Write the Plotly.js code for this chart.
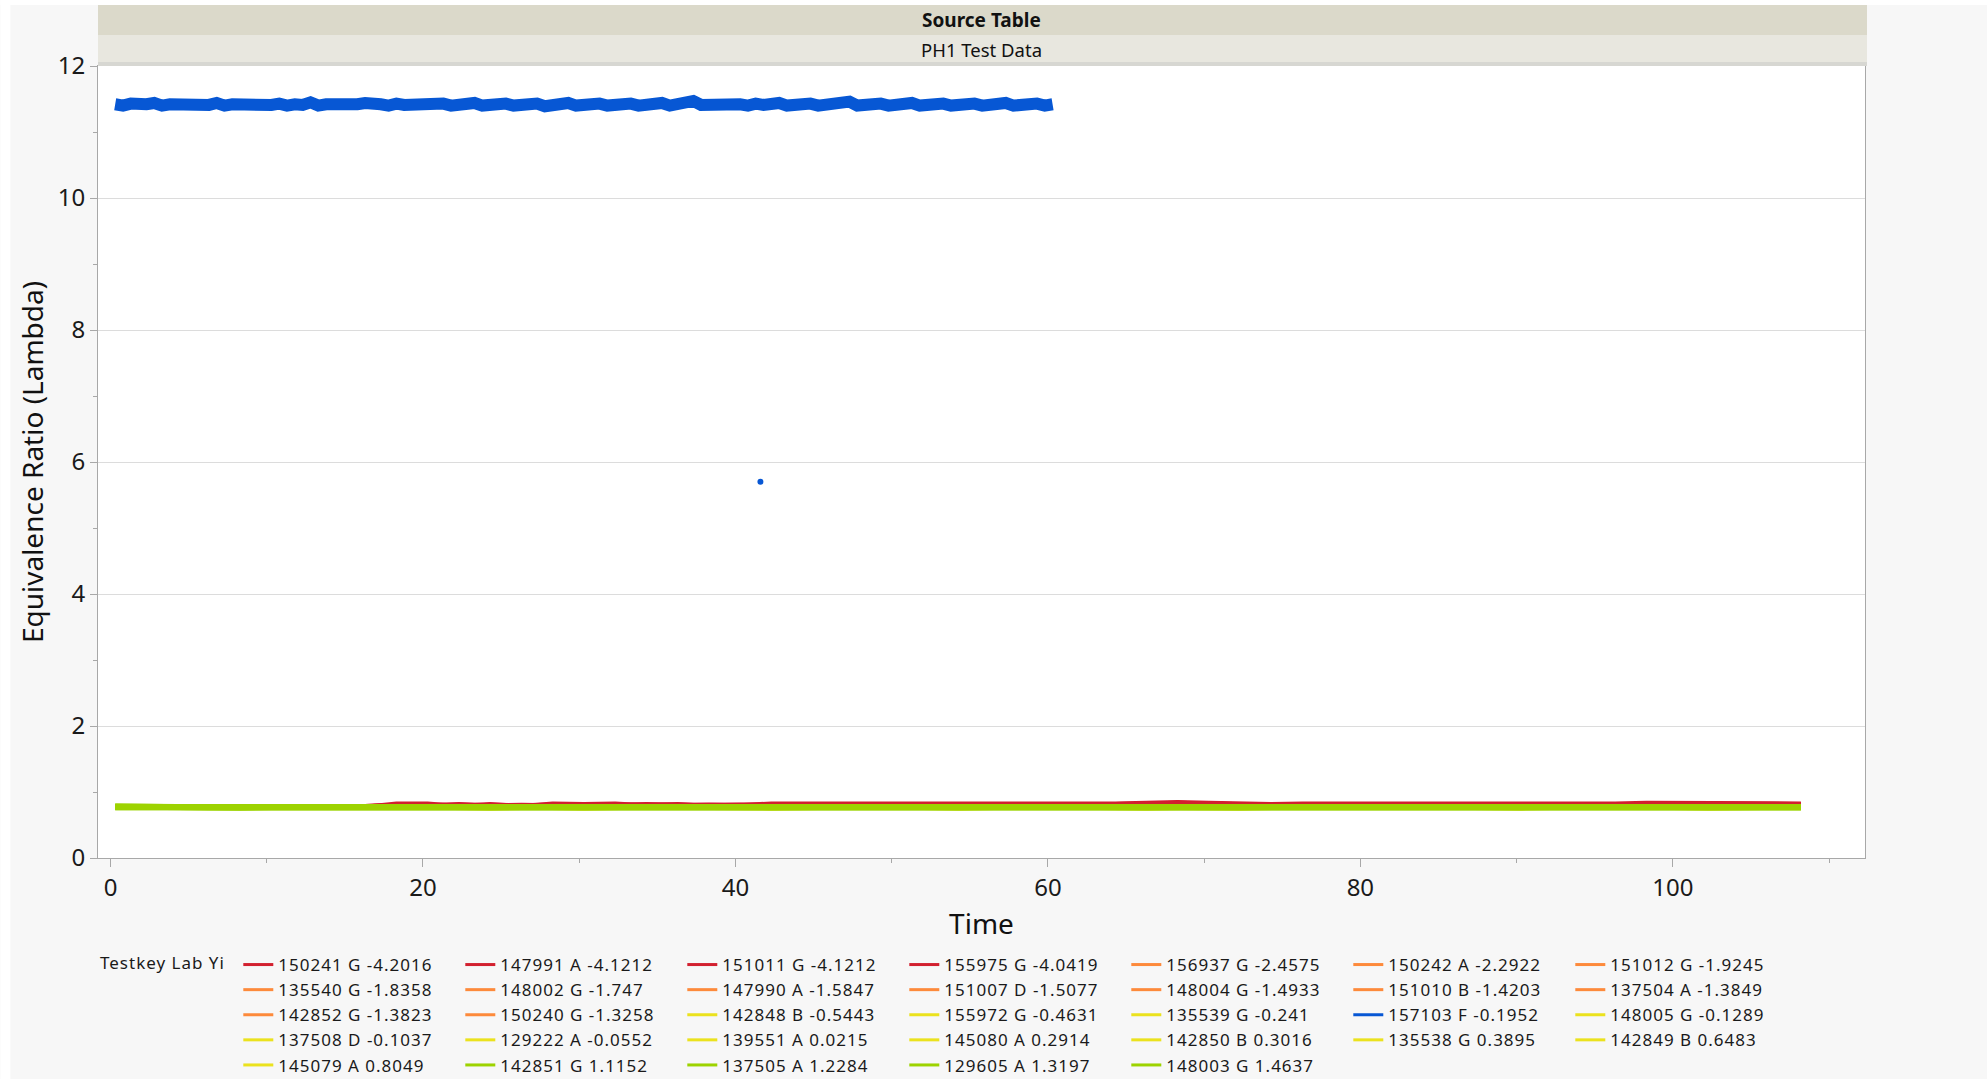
<!DOCTYPE html>
<html>
<head>
<meta charset="utf-8">
<script src="https://cdn.plot.ly/plotly-3.0.1.min.js"></script>
<style>
html,body{margin:0;padding:0;background:#f7f7f7;}
#chart{width:1987px;height:1079px;}
.legendtext, .legendtitletext{letter-spacing:1px;}
</style>
</head>
<body>
<div id="chart"></div>
<script>
// ---------------- DATA ----------------
const legendTitle = "Testkey Lab Yi";
const seriesLabels = [
  "150241 G -4.2016","147991 A -4.1212","151011 G -4.1212","155975 G -4.0419","156937 G -2.4575","150242 A -2.2922","151012 G -1.9245",
  "135540 G -1.8358","148002 G -1.747","147990 A -1.5847","151007 D -1.5077","148004 G -1.4933","151010 B -1.4203","137504 A -1.3849",
  "142852 G -1.3823","150240 G -1.3258","142848 B -0.5443","155972 G -0.4631","135539 G -0.241","157103 F -0.1952","148005 G -0.1289",
  "137508 D -0.1037","129222 A -0.0552","139551 A 0.0215","145080 A 0.2914","142850 B 0.3016","135538 G 0.3895","142849 B 0.6483",
  "145079 A 0.8049","142851 G 1.1152","137505 A 1.2284","129605 A 1.3197","148003 G 1.4637"
];

const timeFine = [0.3, 2.3, 4.3, 6.3, 8.3, 10.3, 12.3, 14.3, 16.3, 18.3,
  20.3, 22.3, 24.3, 26.3, 28.3, 30.3, 32.3, 34.3, 36.3, 38.3,
  40.3, 42.3, 44.3, 46.3, 48.3, 50.3, 52.3, 54.3, 56.3, 58.3,
  60.3, 62.3, 64.3, 66.3, 68.3, 70.3, 72.3, 74.3, 76.3, 78.3,
  80.3, 82.3, 84.3, 86.3, 88.3, 90.3, 92.3, 94.3, 96.3, 98.3,
  100.3, 102.3, 104.3, 106.3, 108.2];

const timeCoarse = [0.3, 6.3, 12.3, 18.3, 24.3, 30.3, 36.3, 42.3, 48.3, 54.3, 60.3, 66.3, 72.3, 78.3, 84.3, 90.3, 96.3, 102.3, 108.2];

const timeBlue = [0.3, 0.8, 1.3, 1.8, 2.3, 2.8, 3.3, 3.8, 4.3, 4.8,
  5.3, 5.8, 6.3, 6.8, 7.3, 7.8, 8.3, 8.8, 9.3, 9.8,
  10.3, 10.8, 11.3, 11.8, 12.3, 12.8, 13.3, 13.8, 14.3, 14.8,
  15.3, 15.8, 16.3, 16.8, 17.3, 17.8, 18.3, 18.8, 19.3, 19.8,
  20.3, 20.8, 21.3, 21.8, 22.3, 22.8, 23.3, 23.8, 24.3, 24.8,
  25.3, 25.8, 26.3, 26.8, 27.3, 27.8, 28.3, 28.8, 29.3, 29.8,
  30.3, 30.8, 31.3, 31.8, 32.3, 32.8, 33.3, 33.8, 34.3, 34.8,
  35.3, 35.8, 36.3, 36.8, 37.3, 37.8, 38.3, 38.8, 39.3, 39.8,
  40.3, 40.8, 41.3, 41.8, 42.3, 42.8, 43.3, 43.8, 44.3, 44.8,
  45.3, 45.8, 46.3, 46.8, 47.3, 47.8, 48.3, 48.8, 49.3, 49.8,
  50.3, 50.8, 51.3, 51.8, 52.3, 52.8, 53.3, 53.8, 54.3, 54.8,
  55.3, 55.8, 56.3, 56.8, 57.3, 57.8, 58.3, 58.8, 59.3, 59.8,
  60.3];

const s157103 = [11.42,11.40,11.43,11.41,11.42,11.44,11.40,11.42,11.41,11.43,
  11.40,11.42,11.41,11.44,11.40,11.42,11.41,11.43,11.39,11.42,
  11.41,11.43,11.40,11.42,11.41,11.45,11.40,11.42,11.41,11.43,
  11.40,11.42,11.44,11.41,11.42,11.40,11.43,11.41,11.42,11.39,
  11.42,11.41,11.43,11.40,11.42,11.41,11.44,11.40,11.42,11.41,
  11.43,11.40,11.42,11.41,11.43,11.39,11.42,11.41,11.44,11.40,
  11.42,11.41,11.43,11.40,11.42,11.41,11.43,11.40,11.42,11.41,
  11.44,11.40,11.42,11.41,11.47,11.41,11.42,11.40,11.43,11.41,
  11.42,11.40,11.43,11.41,11.42,11.44,11.40,11.42,11.41,11.43,
  11.40,11.42,11.41,11.43,11.46,11.40,11.42,11.41,11.43,11.40,
  11.42,11.41,11.44,11.40,11.42,11.41,11.43,11.40,11.42,11.41,
  11.43,11.40,11.42,11.41,11.44,11.40,11.42,11.41,11.43,11.40,
  11.42];
const s157103OutlierTime = [41.6];
const s157103OutlierValue = [5.70];

// red
const s150241 = [0.77,0.77,0.77,0.77,0.77,0.77,0.77,0.77,0.77,0.82,
  0.82,0.78,0.81,0.78,0.82,0.81,0.82,0.79,0.81,0.78,
  0.79,0.82,0.82,0.82,0.82,0.82,0.82,0.82,0.81,0.82,
  0.81,0.82,0.82,0.83,0.84,0.83,0.82,0.81,0.82,0.82,
  0.82,0.81,0.82,0.82,0.81,0.82,0.82,0.82,0.82,0.83,
  0.83,0.83,0.83,0.82,0.82];
const s147991 = [0.77,0.77,0.77,0.77,0.77,0.77,0.77,0.78,0.78,0.79,
  0.80,0.79,0.80,0.79,0.80,0.79,0.80,0.80,0.79,0.80,
  0.79,0.80,0.80,0.81,0.80,0.80,0.81,0.80,0.80,0.80,
  0.80,0.80,0.81,0.82,0.82,0.81,0.80,0.80,0.81,0.80,
  0.80,0.80,0.81,0.80,0.80,0.81,0.80,0.80,0.81,0.81,
  0.82,0.81,0.81,0.80,0.80];
const s151011 = [0.77,0.77,0.77,0.77,0.77,0.77,0.77,0.77,0.78,0.80,
  0.79,0.81,0.79,0.80,0.79,0.81,0.80,0.81,0.80,0.79,
  0.80,0.80,0.81,0.80,0.81,0.80,0.80,0.81,0.80,0.81,
  0.80,0.81,0.80,0.82,0.83,0.82,0.81,0.80,0.81,0.81,
  0.81,0.80,0.80,0.81,0.81,0.80,0.81,0.81,0.80,0.82,
  0.81,0.82,0.82,0.81,0.81];
const s155975 = [0.77,0.77,0.77,0.77,0.77,0.77,0.78,0.77,0.78,0.79,
  0.80,0.80,0.79,0.80,0.80,0.80,0.79,0.80,0.80,0.80,
  0.80,0.81,0.80,0.80,0.80,0.81,0.80,0.80,0.80,0.80,
  0.81,0.80,0.81,0.81,0.82,0.82,0.80,0.80,0.80,0.81,
  0.80,0.81,0.80,0.80,0.81,0.80,0.80,0.81,0.80,0.81,
  0.81,0.81,0.80,0.81,0.80];

// orange
const s156937 = [0.77,0.78,0.77,0.78,0.79,0.78,0.78,0.79,0.78,0.79,0.78,0.79,0.79,0.78,0.79,0.78,0.79,0.79,0.78];
const s150242 = [0.77,0.77,0.78,0.78,0.78,0.79,0.78,0.78,0.79,0.78,0.78,0.79,0.78,0.79,0.78,0.78,0.79,0.78,0.78];
const s151012 = [0.78,0.77,0.78,0.77,0.78,0.78,0.79,0.78,0.78,0.78,0.79,0.78,0.79,0.78,0.78,0.79,0.78,0.79,0.78];
const s135540 = [0.77,0.78,0.77,0.78,0.77,0.78,0.78,0.77,0.78,0.78,0.77,0.78,0.78,0.78,0.77,0.78,0.78,0.77,0.78];
const s148002 = [0.78,0.77,0.78,0.77,0.78,0.77,0.78,0.78,0.77,0.78,0.78,0.77,0.78,0.77,0.78,0.78,0.77,0.78,0.77];
const s147990 = [0.77,0.77,0.78,0.78,0.77,0.78,0.77,0.78,0.78,0.77,0.78,0.78,0.77,0.78,0.78,0.77,0.78,0.78,0.77];
const s151007 = [0.78,0.78,0.77,0.78,0.78,0.77,0.78,0.77,0.78,0.78,0.77,0.78,0.77,0.78,0.77,0.78,0.78,0.77,0.78];
const s148004 = [0.77,0.78,0.78,0.77,0.78,0.78,0.77,0.78,0.77,0.78,0.78,0.77,0.78,0.78,0.77,0.78,0.77,0.78,0.78];
const s151010 = [0.77,0.77,0.78,0.77,0.78,0.77,0.78,0.78,0.77,0.78,0.77,0.78,0.78,0.77,0.78,0.77,0.78,0.77,0.78];
const s137504 = [0.78,0.77,0.77,0.78,0.77,0.78,0.77,0.77,0.78,0.77,0.78,0.77,0.78,0.77,0.78,0.78,0.77,0.78,0.77];
const s142852 = [0.77,0.78,0.77,0.77,0.78,0.77,0.78,0.77,0.77,0.78,0.77,0.78,0.77,0.78,0.77,0.77,0.78,0.77,0.78];
const s150240 = [0.77,0.77,0.77,0.78,0.77,0.77,0.78,0.77,0.78,0.77,0.77,0.78,0.77,0.77,0.78,0.77,0.78,0.78,0.77];

// yellow
const s142848 = [0.79,0.76,0.77,0.76,0.77,0.74,0.77,0.76,0.77,0.76,0.77,0.76,0.74,0.77,0.76,0.77,0.76,0.77,0.76];
const s155972 = [0.78,0.77,0.76,0.77,0.76,0.77,0.76,0.74,0.76,0.77,0.76,0.77,0.76,0.77,0.76,0.74,0.77,0.76,0.77];
const s135539 = [0.77,0.76,0.77,0.76,0.77,0.76,0.77,0.76,0.77,0.74,0.77,0.76,0.77,0.76,0.77,0.76,0.77,0.76,0.77];
const s148005 = [0.76,0.77,0.76,0.77,0.74,0.77,0.76,0.77,0.76,0.77,0.76,0.74,0.77,0.76,0.77,0.76,0.77,0.74,0.76];
const s137508 = [0.77,0.77,0.76,0.76,0.77,0.76,0.77,0.77,0.76,0.77,0.77,0.76,0.77,0.77,0.76,0.77,0.76,0.77,0.77];
const s129222 = [0.76,0.76,0.77,0.77,0.76,0.77,0.76,0.76,0.77,0.76,0.76,0.77,0.76,0.76,0.77,0.76,0.77,0.76,0.76];
const s139551 = [0.78,0.77,0.76,0.77,0.77,0.76,0.77,0.76,0.77,0.77,0.76,0.77,0.77,0.76,0.77,0.77,0.76,0.77,0.76];
const s145080 = [0.77,0.76,0.77,0.77,0.76,0.77,0.77,0.76,0.77,0.76,0.77,0.77,0.76,0.77,0.76,0.77,0.77,0.76,0.77];
const s142850 = [0.76,0.77,0.77,0.76,0.77,0.77,0.76,0.77,0.77,0.76,0.77,0.76,0.77,0.77,0.76,0.77,0.76,0.77,0.76];
const s135538 = [0.77,0.76,0.76,0.77,0.76,0.76,0.77,0.77,0.76,0.77,0.76,0.77,0.76,0.76,0.77,0.76,0.77,0.77,0.76];
const s142849 = [0.76,0.77,0.76,0.76,0.77,0.77,0.76,0.76,0.77,0.77,0.76,0.76,0.77,0.77,0.76,0.76,0.77,0.76,0.77];
const s145079 = [0.77,0.77,0.77,0.76,0.76,0.77,0.77,0.76,0.76,0.77,0.77,0.76,0.76,0.77,0.77,0.76,0.76,0.77,0.77];

// green
const s142851 = [0.78,0.77,0.77,0.77,0.76,0.77,0.77,0.77,0.77,0.77,
  0.77,0.77,0.76,0.77,0.77,0.77,0.77,0.77,0.76,0.77,
  0.77,0.77,0.77,0.76,0.77,0.77,0.77,0.77,0.77,0.77,
  0.76,0.77,0.77,0.77,0.77,0.77,0.76,0.77,0.77,0.77,
  0.77,0.77,0.77,0.77,0.76,0.77,0.77,0.77,0.77,0.77,
  0.77,0.76,0.77,0.77,0.77];
const s137505 = [0.77,0.77,0.76,0.77,0.77,0.77,0.76,0.77,0.77,0.77,
  0.76,0.77,0.77,0.77,0.76,0.77,0.77,0.76,0.77,0.77,
  0.77,0.76,0.77,0.77,0.77,0.76,0.77,0.77,0.76,0.77,
  0.77,0.77,0.76,0.77,0.77,0.76,0.77,0.77,0.77,0.76,
  0.77,0.77,0.76,0.77,0.77,0.77,0.76,0.77,0.77,0.76,
  0.77,0.77,0.77,0.76,0.77];
const s129605 = [0.77,0.76,0.77,0.77,0.77,0.76,0.77,0.77,0.76,0.77,
  0.77,0.76,0.77,0.77,0.77,0.76,0.77,0.77,0.77,0.76,
  0.77,0.77,0.76,0.77,0.77,0.77,0.76,0.77,0.77,0.77,
  0.77,0.76,0.77,0.77,0.76,0.77,0.77,0.76,0.77,0.77,
  0.76,0.77,0.77,0.77,0.77,0.76,0.77,0.77,0.76,0.77,
  0.77,0.77,0.76,0.77,0.77];
const s148003 = [0.78,0.77,0.77,0.77,0.77,0.77,0.77,0.77,0.77,0.77,
  0.77,0.77,0.77,0.77,0.77,0.77,0.77,0.77,0.77,0.77,
  0.77,0.77,0.77,0.77,0.77,0.77,0.77,0.77,0.77,0.77,
  0.77,0.77,0.77,0.77,0.77,0.77,0.77,0.77,0.77,0.77,
  0.77,0.77,0.77,0.77,0.77,0.77,0.77,0.77,0.77,0.77,
  0.77,0.77,0.77,0.77,0.77];

// ---------------- STYLE ----------------
const COLORS = {red:'#d2202f', orange:'#fd8a3b', yellow:'#ebe21e', blue:'#0757d4', green:'#9dd300'};
const WIDTHS = {red:5, orange:3, yellow:3, blue:12, green:6};
const FONT = '"Noto Sans", "Open Sans", sans-serif';

// table built from the arrays above (legend order)
const series = [
  [seriesLabels[0], timeFine, s150241, 'red'],
  [seriesLabels[1], timeFine, s147991, 'red'],
  [seriesLabels[2], timeFine, s151011, 'red'],
  [seriesLabels[3], timeFine, s155975, 'red'],
  [seriesLabels[4], timeCoarse, s156937, 'orange'],
  [seriesLabels[5], timeCoarse, s150242, 'orange'],
  [seriesLabels[6], timeCoarse, s151012, 'orange'],
  [seriesLabels[7], timeCoarse, s135540, 'orange'],
  [seriesLabels[8], timeCoarse, s148002, 'orange'],
  [seriesLabels[9], timeCoarse, s147990, 'orange'],
  [seriesLabels[10], timeCoarse, s151007, 'orange'],
  [seriesLabels[11], timeCoarse, s148004, 'orange'],
  [seriesLabels[12], timeCoarse, s151010, 'orange'],
  [seriesLabels[13], timeCoarse, s137504, 'orange'],
  [seriesLabels[14], timeCoarse, s142852, 'orange'],
  [seriesLabels[15], timeCoarse, s150240, 'orange'],
  [seriesLabels[16], timeCoarse, s142848, 'yellow'],
  [seriesLabels[17], timeCoarse, s155972, 'yellow'],
  [seriesLabels[18], timeCoarse, s135539, 'yellow'],
  [seriesLabels[19], timeBlue, s157103, 'blue'],
  [seriesLabels[20], timeCoarse, s148005, 'yellow'],
  [seriesLabels[21], timeCoarse, s137508, 'yellow'],
  [seriesLabels[22], timeCoarse, s129222, 'yellow'],
  [seriesLabels[23], timeCoarse, s139551, 'yellow'],
  [seriesLabels[24], timeCoarse, s145080, 'yellow'],
  [seriesLabels[25], timeCoarse, s142850, 'yellow'],
  [seriesLabels[26], timeCoarse, s135538, 'yellow'],
  [seriesLabels[27], timeCoarse, s142849, 'yellow'],
  [seriesLabels[28], timeCoarse, s145079, 'yellow'],
  [seriesLabels[29], timeFine, s142851, 'green'],
  [seriesLabels[30], timeFine, s137505, 'green'],
  [seriesLabels[31], timeFine, s129605, 'green'],
  [seriesLabels[32], timeFine, s148003, 'green']
];

const traces = [];
// legend entries (thin line symbols)
series.forEach(([name, t, y, g]) => {
  traces.push({type:'scatter', mode:'lines', name:name, x:[null], y:[null],
    line:{color:COLORS[g], width:3}, showlegend:true, hoverinfo:'skip'});
});
// drawn data
series.forEach(([name, t, y, g]) => {
  traces.push({type:'scatter', mode:'lines', name:name, x:t, y:y,
    line:{color:COLORS[g], width:WIDTHS[g]}, showlegend:false});
});
traces.push({type:'scatter', mode:'markers', name:seriesLabels[19], x:s157103OutlierTime, y:s157103OutlierValue,
  marker:{color:COLORS.blue, size:6}, showlegend:false});

// ---------------- LAYOUT ----------------
const W = 1987, H = 1079;
const M = {l:97.6, r:122, t:66, b:221};
const plotW = W - M.l - M.r, plotH = H - M.t - M.b;
const px2x = p => (p - M.l) / plotW;
const px2y = p => (H - M.b - p) / plotH;
const NBSP = '\u00a0';

const layout = {
  width:W, height:H,
  margin:{l:M.l, r:M.r, t:M.t, b:M.b, pad:0, autoexpand:false},
  paper_bgcolor:'#f7f7f7', plot_bgcolor:'#ffffff',
  font:{family:FONT, color:'#1a1a1a'},
  showlegend:true,
  xaxis:{
    range:[-0.8, 112.3], dtick:20, tick0:0, showgrid:false, zeroline:false,
    showline:true, mirror:true, linecolor:'#a8a8a8', linewidth:1,
    ticks:'outside', ticklen:8, tickcolor:'#a8a8a8',
    minor:{dtick:10, tick0:0, ticks:'outside', ticklen:4, tickcolor:'#a8a8a8', showgrid:false},
    tickfont:{size:24, family:FONT, color:'#1a1a1a'},
    automargin:true,
    title:{text:'Time', font:{size:28, family:FONT, color:'#111'}, standoff:12}
  },
  yaxis:{
    range:[0, 12], dtick:2, tick0:0, showgrid:true, gridcolor:'#dcdcdc', gridwidth:1, zeroline:false,
    showline:true, mirror:true, linecolor:'#a8a8a8', linewidth:1,
    ticks:'outside', ticklen:7, tickcolor:'#a8a8a8',
    minor:{dtick:1, tick0:0, ticks:'outside', ticklen:4, tickcolor:'#a8a8a8', showgrid:false},
    tickfont:{size:24, family:FONT, color:'#1a1a1a'},
    automargin:true,
    title:{text:'Equivalence Ratio (Lambda)', font:{size:28, family:FONT, color:'#111'}, standoff:5}
  },
  legend:{
    orientation:'h', x:0, xanchor:'left', y:px2y(947), yanchor:'top',
    font:{size:17, family:FONT, color:'#1a1a1a'},
    title:{text:legendTitle + NBSP, side:'left', font:{size:17, family:FONT, color:'#1a1a1a'}},
    entrywidth:177, entrywidthmode:'pixels', bgcolor:'rgba(0,0,0,0)', borderwidth:0,
    traceorder:'normal', itemclick:false, itemdoubleclick:false
  },
  shapes:[
    {type:'rect', xref:'paper', yref:'paper', x0:px2x(0), x1:px2x(10), y0:px2y(H), y1:px2y(0), fillcolor:'#ffffff', line:{width:0}, layer:'below'},
    {type:'rect', xref:'paper', yref:'paper', x0:px2x(0), x1:px2x(W), y0:px2y(5), y1:px2y(0), fillcolor:'#ffffff', line:{width:0}, layer:'below'},
    {type:'rect', xref:'paper', yref:'paper', x0:0, x1:px2x(1867), y0:px2y(35), y1:px2y(5), fillcolor:'#dbd9ca', line:{width:0}},
    {type:'rect', xref:'paper', yref:'paper', x0:0, x1:px2x(1867), y0:px2y(62), y1:px2y(35), fillcolor:'#e8e7df', line:{width:0}},
    {type:'rect', xref:'paper', yref:'paper', x0:0, x1:px2x(1867), y0:px2y(66), y1:px2y(62), fillcolor:'#d7d7d2', line:{width:0}}
  ],
  annotations:[
    {xref:'paper', yref:'paper', x:0.5, y:px2y(20), xanchor:'center', yanchor:'middle', showarrow:false,
     text:'<b>Source Table</b>', font:{size:19, family:FONT, color:'#111'}},
    {xref:'paper', yref:'paper', x:0.5, y:px2y(49), xanchor:'center', yanchor:'middle', showarrow:false,
     text:'PH1 Test Data', font:{size:18.5, family:FONT, color:'#111'}}
  ]
};

Plotly.newPlot('chart', traces, layout, {displayModeBar:false, staticPlot:true});
</script>
</body>
</html>
